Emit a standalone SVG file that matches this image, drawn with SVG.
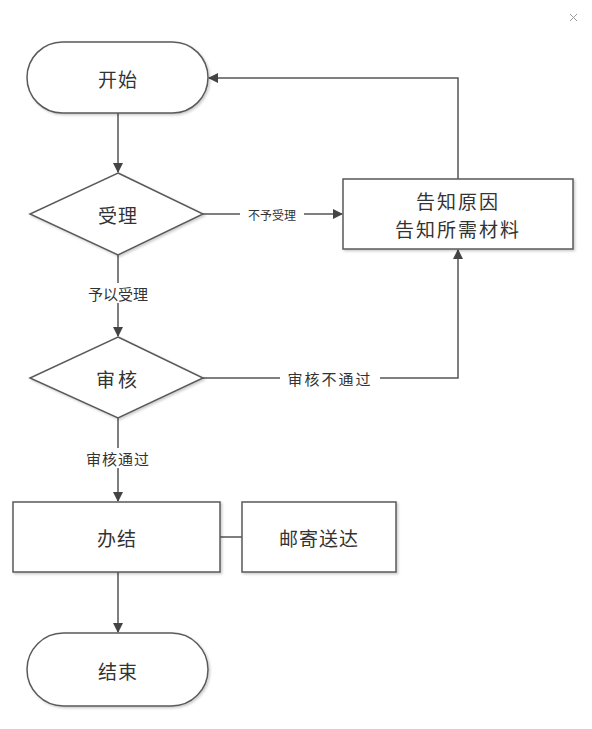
<svg xmlns="http://www.w3.org/2000/svg" width="592" height="729" viewBox="0 0 592 729">
<style>
.shape{fill:#fff;stroke:#5a5a5a;stroke-width:1.5}
.conn{fill:none;stroke:#555;stroke-width:1.5}
.t{font-family:"Noto Sans CJK SC","Noto Sans",sans-serif;fill:#333;text-anchor:middle;dominant-baseline:central}
.big{font-size:19px;letter-spacing:1px}
.lbl{font-size:15px}
.sm{font-size:12px}
.bg{fill:#fff}
</style>
<defs>
<marker id="arr" viewBox="0 0 10 10" refX="9" refY="5" markerWidth="10" markerHeight="10" markerUnits="userSpaceOnUse" orient="auto">
<path d="M0,0 L10,5 L0,10 z" fill="#444"/>
</marker>
<filter id="sh" x="-5%" y="-5%" width="115%" height="115%">
<feDropShadow dx="1.5" dy="1.5" stdDeviation="1" flood-color="#000" flood-opacity="0.2"/>
</filter>
</defs>
<rect width="592" height="729" fill="#fff"/>
<g id="close" stroke="#999" stroke-width="1">
<line x1="570" y1="14" x2="577" y2="21"/><line x1="577" y1="14" x2="570" y2="21"/>
</g>
<g id="connectors">
<line class="conn" x1="118" y1="113" x2="118" y2="172" marker-end="url(#arr)"/>
<line class="conn" x1="203" y1="214" x2="342" y2="214" marker-end="url(#arr)"/>
<line class="conn" x1="118" y1="255" x2="118" y2="336" marker-end="url(#arr)"/>
<polyline class="conn" points="203,378 458,378 458,250" marker-end="url(#arr)"/>
<polyline class="conn" points="458,179 458,78 209,78" marker-end="url(#arr)"/>
<line class="conn" x1="118" y1="418" x2="118" y2="501" marker-end="url(#arr)"/>
<line class="conn" x1="220" y1="537" x2="242" y2="537"/>
<line class="conn" x1="118" y1="572" x2="118" y2="632" marker-end="url(#arr)"/>
<rect class="bg" x="240" y="205" width="64" height="18"/>
<text class="t sm" x="272" y="214">不予受理</text>
<rect class="bg" x="80" y="283" width="76" height="20"/>
<text class="t lbl" x="118" y="293">予以受理</text>
<rect class="bg" x="280" y="368" width="100" height="20"/>
<text class="t lbl" x="330" y="378" style="letter-spacing:2px">审核不通过</text>
<rect class="bg" x="78" y="448" width="80" height="20"/>
<text class="t lbl" x="118" y="458" style="letter-spacing:1px">审核通过</text>
</g>
<g id="start">
<rect class="shape" x="27" y="42" width="181" height="71" rx="35.5" filter="url(#sh)"/>
<text class="t big" x="118" y="78">开始</text>
</g>
<g id="accept">
<polygon class="shape" points="118,173 203,214 118,255 30,214" filter="url(#sh)"/>
<text class="t big" x="118" y="214">受理</text>
</g>
<g id="notify">
<rect class="shape" x="343" y="179" width="230" height="70" filter="url(#sh)"/>
<text class="t big" x="458" y="200" style="letter-spacing:2px">告知原因</text>
<text class="t big" x="458" y="228" style="letter-spacing:2px">告知所需材料</text>
</g>
<g id="review">
<polygon class="shape" points="118,337 203,378 118,418 30,378" filter="url(#sh)"/>
<text class="t big" x="118" y="378" style="letter-spacing:3px">审核</text>
</g>
<g id="done">
<rect class="shape" x="13" y="502" width="207" height="70" filter="url(#sh)"/>
<text class="t big" x="117" y="537">办结</text>
</g>
<g id="mail">
<rect class="shape" x="242" y="502" width="154" height="70" filter="url(#sh)"/>
<text class="t big" x="319" y="537" style="letter-spacing:1px">邮寄送达</text>
</g>
<g id="end">
<rect class="shape" x="27" y="633" width="181" height="73" rx="36.5" filter="url(#sh)"/>
<text class="t big" x="118" y="670">结束</text>
</g>
</svg>
